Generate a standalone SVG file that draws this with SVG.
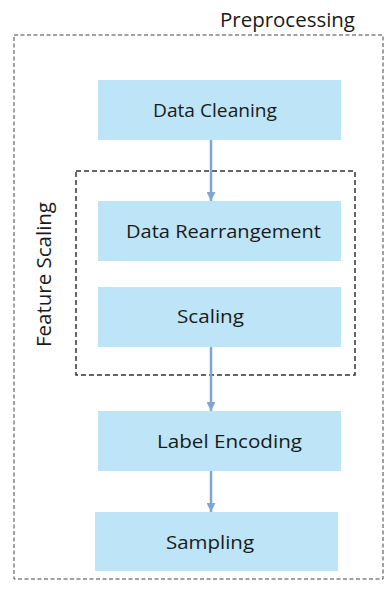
<svg xmlns="http://www.w3.org/2000/svg" width="385" height="590" viewBox="0 0 385 590">
<style>
.box{fill:#bde5f7;}
.lbl{font-family:"Open Sans","Noto Sans",sans-serif;font-size:19px;fill:#1a1a1a;text-anchor:middle;}
.big{font-size:20px;}
.grp{fill:none;stroke:#444;stroke-width:1;stroke-dasharray:4,2.5;}
.grp2{fill:none;stroke:#333;stroke-width:1.5;stroke-dasharray:5,3;}
.conn{stroke:#7fa6d0;stroke-width:2.5;fill:none;}
</style>
<defs>
<marker id="ah" viewBox="0 0 10 10" refX="10" refY="5" markerWidth="4" markerHeight="3.6" orient="auto" markerUnits="strokeWidth">
<path d="M0,0 L10,5 L0,10 z" fill="#7fa6d0"/>
</marker>
</defs>
<rect width="385" height="590" fill="#fff"/>
<g id="preprocessing">
<rect class="grp" x="14" y="35" width="369" height="544"/>
<text class="lbl big" x="287.5" y="27" textLength="135" lengthAdjust="spacingAndGlyphs">Preprocessing</text>
</g>
<g id="feature-scaling">
<rect class="grp2" x="76" y="171" width="279" height="204"/>
<text class="lbl big" transform="translate(51,274.5) rotate(-90)" textLength="145" lengthAdjust="spacingAndGlyphs">Feature Scaling</text>
</g>
<g id="data-cleaning">
<rect class="box" x="98" y="80" width="243" height="60"/>
<text class="lbl" x="215" y="117" textLength="124" lengthAdjust="spacingAndGlyphs">Data Cleaning</text>
</g>
<g id="data-rearrangement">
<rect class="box" x="98" y="201" width="243" height="60"/>
<text class="lbl" x="223.5" y="238" textLength="195" lengthAdjust="spacingAndGlyphs">Data Rearrangement</text>
</g>
<g id="scaling">
<rect class="box" x="98" y="287" width="243" height="60"/>
<text class="lbl" x="210.5" y="323" textLength="67" lengthAdjust="spacingAndGlyphs">Scaling</text>
</g>
<g id="label-encoding">
<rect class="box" x="98" y="411" width="243" height="60"/>
<text class="lbl" x="229.5" y="448" textLength="145" lengthAdjust="spacingAndGlyphs">Label Encoding</text>
</g>
<g id="sampling">
<rect class="box" x="95" y="512" width="243" height="59"/>
<text class="lbl" x="210" y="549" textLength="88" lengthAdjust="spacingAndGlyphs">Sampling</text>
</g>
<g id="connectors">
<line class="conn" x1="211" y1="140" x2="211" y2="201" marker-end="url(#ah)"/>
<line class="conn" x1="211" y1="347" x2="211" y2="411" marker-end="url(#ah)"/>
<line class="conn" x1="211" y1="471" x2="211" y2="512" marker-end="url(#ah)"/>
</g>
</svg>
